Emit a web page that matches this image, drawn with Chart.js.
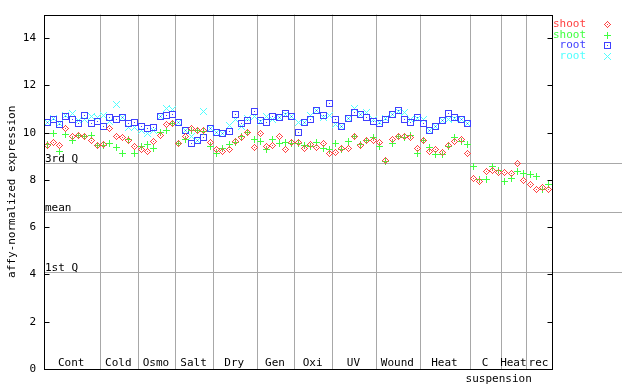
<!DOCTYPE html>
<html><head><meta charset="utf-8">
<script src="https://cdn.jsdelivr.net/npm/chart.js@4/dist/chart.umd.min.js"></script>
<style>html,body{margin:0;padding:0;background:#fff}#wrap{width:640px;height:384px}</style>
</head><body><div id="wrap"><canvas id="c" width="640" height="384"></canvas></div>
<script>
// ---- data ----
const groupLabels = ['Cont','Cold','Osmo','Salt','Dry','Gen','Oxi','UV','Wound','Heat','C','Heat','rec'];
const groupSizes  = [9,6,6,6,7,6,6,7,7,8,5,4,4];
const subLabel = 'suspension';
const seriesNames = ['shoot','shoot','root','root'];
const shootRed = [9.45,9.59,9.48,10.16,9.83,9.87,9.83,9.69,9.48,
  9.52,10.16,9.83,9.78,9.69,9.41,
  9.31,9.21,9.63,9.87,10.34,10.40,
  9.55,9.83,10.20,10.09,10.09,9.59,
  9.31,9.21,9.31,9.63,9.80,10.01,9.38,
  9.97,9.41,9.48,9.85,9.31,9.59,
  9.59,9.35,9.49,9.38,9.55,9.13,
  9.17,9.35,9.35,9.85,9.48,9.66,9.66,
  9.59,8.82,9.73,9.83,9.85,9.78,9.35,
  9.69,9.21,9.30,9.17,9.45,9.63,9.73,9.13,
  8.07,7.94,8.37,8.40,8.32,
  8.32,8.28,8.70,7.97,
  7.83,7.58,7.69,7.60];
const shootGreen = [9.52,9.97,9.21,9.94,9.66,9.87,9.85,9.87,9.48,
  9.45,9.55,9.38,9.13,9.73,9.13,
  9.41,9.52,9.35,10.02,10.11,10.37,
  9.55,9.73,10.09,10.11,10.06,9.42,
  9.10,9.35,9.49,9.59,9.83,10.02,9.73,
  9.63,9.27,9.73,9.55,9.59,9.55,
  9.55,9.45,9.42,9.59,9.35,9.31,
  9.55,9.27,9.63,9.85,9.52,9.69,9.78,
  9.42,8.79,9.55,9.85,9.78,9.87,9.13,
  9.66,9.38,9.07,9.06,9.42,9.78,9.63,9.49,
  8.58,8.01,8.01,8.58,8.42,
  7.93,8.07,8.37,8.28,
  8.25,8.15,7.60,7.79];
const rootBlue = [10.44,10.58,10.34,10.69,10.58,10.41,10.75,10.41,10.48,
  10.27,10.65,10.55,10.65,10.40,10.44,
  10.27,10.16,10.23,10.68,10.75,10.79,
  10.44,10.09,9.55,9.69,9.80,10.16,
  10.02,9.97,10.06,10.79,10.41,10.50,10.90,
  10.51,10.44,10.69,10.65,10.82,10.68,
  10.02,10.44,10.58,10.93,10.72,11.24,
  10.54,10.26,10.62,10.86,10.79,10.65,10.48,
  10.40,10.54,10.79,10.96,10.54,10.44,10.65,
  10.37,10.11,10.26,10.51,10.82,10.65,10.58,10.41];
const rootCyan = [10.44,10.60,10.41,10.72,10.82,10.51,10.58,10.69,10.65,
  10.72,10.48,11.21,10.65,10.23,10.23,
  10.09,9.97,10.09,10.69,11.03,10.97,
  10.44,10.09,9.85,9.69,10.90,10.20,
  10.02,9.97,10.30,10.58,10.26,10.60,10.68,
  10.48,10.69,10.58,10.65,10.79,10.68,
  10.44,10.44,10.72,10.93,10.65,10.72,
  10.34,10.26,10.62,11.04,10.79,10.86,10.58,
  10.44,10.61,10.79,10.90,10.86,10.58,10.62,
  10.58,10.11,10.26,10.51,10.58,10.60,10.58,10.41];
const quartileValues = [8.70, 6.63, 4.09];
const quartileLabels = ['3rd Q','mean','1st Q'];
const yTicks = [0,2,4,6,8,10,12,14];

// ---- styling ----
const FONT = '"DejaVu Sans Mono", monospace';
const colors = ['#ff4040','#40ff40','#4040ff','#50ffff'];
const GRID = '#a8a8a8';

function marker(color, kind){
  const c=document.createElement('canvas'); c.width=7; c.height=7;
  const g=c.getContext('2d'); g.fillStyle=color;
  for(let y=0;y<7;y++)for(let x=0;x<7;x++){
    let on=false;
    const dx=Math.abs(x-3), dy=Math.abs(y-3);
    if(kind==='diamond') on=(dx+dy===3)||(dx===0&&dy===0);
    if(kind==='plus') on=(x===3||y===3);
    if(kind==='square') on=(x===0||x===6||y===0||y===6||(dx===0&&dy===0));
    if(kind==='x') on=(dx===dy);
    if(on) g.fillRect(x,y,1,1);
  }
  return c;
}
const kinds=['diamond','plus','square','x'];
const markers = colors.map((c,i)=>marker(c,kinds[i]));

const boundaries=[]; let acc=0;
groupSizes.forEach((n,i)=>{acc+=n; if(i<groupSizes.length-1) boundaries.push(acc-0.5);});
const nPoints = groupSizes.reduce((a,b)=>a+b,0);

const allSeries=[shootRed,shootGreen,rootBlue,rootCyan];
const datasets = allSeries.map((arr,k)=>({
  label: seriesNames[k],
  data: arr.map((v,i)=>({x:i,y:v})),
  pointStyle: markers[k],
  pointRadius: 3.5,
  showLine:false
}));

// snap scale-computed point positions onto pixel centres so bitmap markers stay crisp
const snap = {
  id:'snap',
  afterDatasetsUpdate(chart){
    chart.data.datasets.forEach((d,i)=>{
      chart.getDatasetMeta(i).data.forEach(el=>{
        el.x=Math.floor(el.x)+0.5; el.y=Math.floor(el.y)+0.5;
      });
    });
  }
};

const decor = {
  id:'decor',
  beforeDatasetsDraw(chart){
    const {ctx, chartArea:a, scales:{y}} = chart;
    ctx.save();
    ctx.strokeStyle=GRID; ctx.lineWidth=1;
    ctx.font='11px '+FONT; ctx.fillStyle='#000'; ctx.textAlign='left'; ctx.textBaseline='alphabetic';
    quartileValues.forEach((v,i)=>{
      const py=Math.round(y.getPixelForValue(v))+0.5;
      ctx.beginPath(); ctx.moveTo(a.left,py); ctx.lineTo(622,py); ctx.stroke();
      ctx.fillText(quartileLabels[i], a.left+1, py-2);
    });
    ctx.restore();
  },
  afterDraw(chart){
    const {ctx, chartArea:a, scales:{x,y}} = chart;
    ctx.save();
    ctx.strokeStyle='#000'; ctx.lineWidth=1;
    const L=Math.round(a.left)+0.5, R=Math.round(a.right)+0.5, T=Math.round(a.top)+0.5, B=Math.round(a.bottom)+0.5;
    ctx.strokeRect(L,T,R-L,B-T);
    yTicks.forEach(v=>{
      const py=Math.round(y.getPixelForValue(v))+0.5;
      ctx.beginPath(); ctx.moveTo(L,py); ctx.lineTo(L+5,py); ctx.moveTo(R-5,py); ctx.lineTo(R,py); ctx.stroke();
    });
    ctx.font='11px '+FONT; ctx.fillStyle='#000'; ctx.textAlign='center'; ctx.textBaseline='middle';
    let s=0;
    groupSizes.forEach((n,i)=>{
      const cx=(x.getPixelForValue(s-0.5)+x.getPixelForValue(s+n-0.5))/2;
      ctx.fillText(groupLabels[i], cx-1, a.bottom-6);
      s+=n;
    });
    const c0=x.getPixelForValue(boundaries[9]), c1=x.getPixelForValue(boundaries[11]);
    ctx.fillText(subLabel,(c0+c1)/2, a.bottom+10);
    ctx.textAlign='right';
    seriesNames.forEach((nm,i)=>{
      const yy=24+i*10.7;
      ctx.fillStyle=colors[i];
      ctx.fillText(nm, 586, yy);
      ctx.drawImage(markers[i], 604, Math.round(yy)-3);
    });
    ctx.restore();
  }
};

new Chart(document.getElementById('c'),{
  type:'scatter',
  data:{datasets},
  options:{
    responsive:false, animation:false, devicePixelRatio:1,
    layout:{padding:{left:0,right:88,top:14,bottom:0}},
    plugins:{legend:{display:false},tooltip:{enabled:false}},
    scales:{
      x:{type:'linear',min:-0.5,max:nPoints-0.5,
        afterBuildTicks:ax=>{ax.ticks=boundaries.map(v=>({value:v}));},
        ticks:{display:false},
        grid:{color:GRID,lineWidth:1,drawTicks:false},
        border:{display:false},
        afterFit:s=>{s.height=15;}
      },
      y:{min:0,max:15,
        afterBuildTicks:ax=>{ax.ticks=yTicks.map(v=>({value:v}));},
        ticks:{font:{family:FONT,size:11},color:'#000',padding:8},
        grid:{display:false,drawTicks:false},
        border:{display:false},
        title:{display:true,text:'affy-normalized expression',color:'#000',font:{family:FONT,size:11},padding:{top:6,bottom:0}},
        afterFit:s=>{s.width=44;}
      }
    }
  },
  plugins:[snap,decor]
});
</script></body></html>
